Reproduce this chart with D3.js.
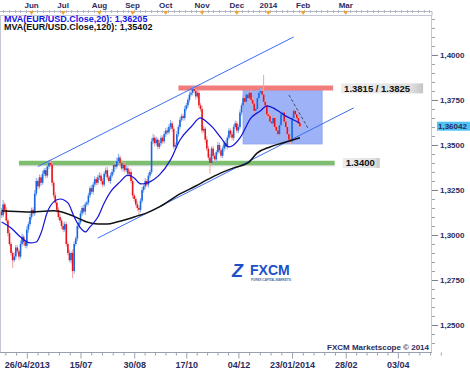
<!DOCTYPE html>
<html lang="en">
<head>
<meta charset="UTF-8">
<title>EUR/USD Daily</title>
<script src="https://d3js.org/d3.v7.min.js"></script>
<style>
  * { margin: 0; padding: 0; }
  body { background: #fff; }
  text { font-family: "Liberation Sans", Arial, sans-serif; font-weight: bold; }
</style>
</head>
<body>
<svg width="470" height="370"></svg>
<script>
// daily EUR/USD bars, open = previous close
var firstOpen = 1.3130;
var closes = [
  1.3110,1.3170,1.3140,1.3080,1.3010,1.2950,1.2900,1.2860,1.2880,1.2930,
  1.2910,1.2880,1.2950,1.2990,1.2960,1.2940,1.3030,1.3060,1.3100,1.3140,
  1.3120,1.3230,1.3300,1.3270,1.3320,1.3290,1.3340,1.3360,1.3330,1.3380,
  1.3400,1.3390,1.3290,1.3220,1.3180,1.3140,1.3100,1.3080,1.3050,1.3030,
  1.3060,1.2950,1.2900,1.2860,1.2900,1.2800,1.2950,1.2980,1.3050,1.3070,
  1.3120,1.3150,1.3130,1.3170,1.3180,1.3220,1.3260,1.3240,1.3280,1.3310,
  1.3290,1.3320,1.3330,1.3300,1.3280,1.3340,1.3360,1.3320,1.3300,1.3330,
  1.3350,1.3390,1.3380,1.3410,1.3430,1.3400,1.3370,1.3390,1.3360,1.3370,
  1.3340,1.3350,1.3300,1.3220,1.3200,1.3170,1.3150,1.3140,1.3190,1.3250,
  1.3270,1.3300,1.3280,1.3330,1.3350,1.3520,1.3540,1.3510,1.3530,1.3490,
  1.3510,1.3540,1.3520,1.3560,1.3580,1.3570,1.3600,1.3620,1.3590,1.3490,
  1.3500,1.3560,1.3600,1.3640,1.3660,1.3650,1.3700,1.3720,1.3750,1.3780,
  1.3790,1.3810,1.3800,1.3770,1.3790,1.3720,1.3700,1.3580,1.3590,1.3530,
  1.3480,1.3430,1.3400,1.3480,1.3440,1.3420,1.3460,1.3500,1.3470,1.3440,
  1.3480,1.3510,1.3490,1.3540,1.3580,1.3560,1.3540,1.3600,1.3620,1.3580,
  1.3600,1.3680,1.3720,1.3760,1.3740,1.3780,1.3760,1.3790,1.3750,1.3730,
  1.3690,1.3700,1.3760,1.3790,1.3800,1.3780,1.3740,1.3720,1.3670,1.3660,
  1.3630,1.3620,1.3650,1.3600,1.3580,1.3560,1.3610,1.3670,1.3680,1.3630,
  1.3600,1.3560,1.3530,1.3520,1.3650,1.3690,1.3670,1.3650,1.3620,1.3604
];
// shadow lengths above / below the body, in pips
var wickHi = [
  20,25,12,15,10,18,12,10,22,15, 14,10,20,18,12,15,20,14,18,12,
  15,20,18,12,16,14,18,12,15,18, 17,20,15,12,18,10,14,16,12,18,
  15,12,14,18,10,20,15,12,18,14, 16,12,18,14,10,15,12,18,14,16,
  12,15,18,14,16,12,15,18,12,14, 16,12,15,20,22,14,18,12,15,16,
  14,12,18,15,12,14,16,12,15,18, 14,16,12,15,12,18,22,14,16,12,
  18,14,12,16,15,18,14,20,12,16, 14,18,12,16,14,12,18,15,12,16,
  14,16,18,12,15,20,14,18,16,12, 18,14,20,12,16,14,12,18,15,14,
  16,12,18,14,15,12,18,14,16,12, 14,18,12,16,15,18,14,12,16,18,
  14,15,12,16,18,14,109,18,15,12, 16,14,18,12,15,14,16,12,18,14,
  15,12,14,16,18,12,15,14,12,16
];
var wickLo = [
  15,12,20,14,18,12,15,43,12,18, 15,20,12,14,18,12,15,18,12,15,
  12,15,14,18,12,15,12,14,16,12, 14,12,18,15,12,16,14,12,18,15,
  12,16,14,12,18,39,15,12,14,16, 12,15,14,18,12,15,14,12,16,14,
  15,12,14,18,15,12,16,14,12,15, 12,14,16,12,15,14,12,18,14,12,
  16,12,14,18,15,12,16,23,14,12, 15,14,12,16,14,12,15,18,14,16,
  12,15,14,12,16,14,12,15,18,14, 16,12,15,14,12,16,14,12,15,14,
  12,15,14,18,12,15,14,16,12,18, 15,14,60,12,16,14,15,12,16,14,
  12,16,14,15,12,18,14,16,12,15, 14,12,16,14,15,12,18,14,16,12,
  15,14,12,16,14,12,18,15,14,16, 12,14,16,15,12,18,14,12,16,15,
  14,12,16,15,12,14,16,12,15,14
];
// moving averages: [bar index, value]
var ma20 = [
  [0,1.3072],[6,1.3039],[12,1.2989],[18,1.2956],[22,1.2961],[25,1.3011],[29,1.3128],
  [33,1.3184],[37,1.3200],[42,1.3178],[46,1.3100],[50,1.3039],[53,1.3017],[56,1.3045],
  [61,1.3100],[65,1.3178],[69,1.3239],[75,1.3295],[80,1.3333],[84,1.3317],[88,1.3284],
  [92,1.3289],[96,1.3306],[100,1.3334],[107,1.3417],[113,1.3528],[120,1.3600],[126,1.3650],
  [130,1.3628],[134,1.3595],[139,1.3539],[144,1.3489],[147,1.3500],[151,1.3539],[158,1.3650],
  [164,1.3690],[168,1.3717],[172,1.3706],[177,1.3678],[181,1.3656],[185,1.3639],[189,1.3621]
];
var ma120 = [
  [0,1.3134],[16,1.3128],[33,1.3134],[42,1.3117],[48,1.3095],[54,1.3072],[61,1.3061],
  [67,1.3061],[73,1.3072],[80,1.3089],[86,1.3106],[92,1.3123],[100,1.3156],[113,1.3228],
  [123,1.3272],[130,1.3306],[139,1.3345],[147,1.3373],[156,1.3400],[162,1.3456],
  [170,1.3489],[178,1.3511],[189,1.3540]
];
var legendNames = ["MVA(EUR/USD.Close,20): 1,36205", "MVA(EUR/USD.Close,120): 1,35402"];
var monthIdx = [19, 39, 62, 83, 104, 127, 149, 169, 191, 218];
var monthLabels = ["Jun", "Jul", "Aug", "Sep", "Oct", "Nov", "Dec", "2014", "Feb", "Mar"];
var dateIdx = [16, 50, 84, 117, 150, 184, 218, 251];
var dateLabels = ["26/04/2013", "15/07", "30/08", "17/10", "04/12", "23/01/2014", "28/02", "03/04"];
var priceTicks = [1.25, 1.275, 1.30, 1.325, 1.35, 1.375, 1.40];
var lastPrice = 1.36042;
var support = 1.3400, supportSpan = [11, 211];
var resistance = [1.3815, 1.3825], resistanceSpan = [112, 210];
var upperChannel = [[23, 1.3380], [185, 1.4100]];
var lowerChannel = [[61, 1.2983], [223, 1.3706]];
var zoneIdx = [153, 203], zoneVal = [1.3506, 1.3806];
var flagLine = [[182, 1.3778], [194, 1.3595]];

var svg = d3.select("svg");
var navy = "#2b2b5e";

var x = d3.scaleLinear().domain([-1, 272]).range([0, 431]);
var y = d3.scaleLinear().domain([1.235, 1.4222]).range([352, 15]);

var bars = closes.map(function (c, i) {
  var o = i === 0 ? firstOpen : closes[i - 1];
  return {
    i: i, o: o, c: c,
    h: Math.max(o, c) + wickHi[i] / 10000,
    l: Math.min(o, c) - wickLo[i] / 10000
  };
});

// plot frame
svg.append("rect").attr("x", 0.5).attr("y", 15.5).attr("width", 431).attr("height", 337)
  .attr("fill", "none").attr("stroke", "#c4c8d2");

// zone box
svg.append("rect")
  .attr("x", x(zoneIdx[0])).attr("y", y(zoneVal[1]))
  .attr("width", x(zoneIdx[1]) - x(zoneIdx[0])).attr("height", y(zoneVal[0]) - y(zoneVal[1]))
  .attr("fill", "#9eb2f7").attr("stroke", "#8ea4f2");

// support / resistance bands
svg.append("line")
  .attr("x1", x(supportSpan[0])).attr("x2", x(supportSpan[1]))
  .attr("y1", y(support)).attr("y2", y(support))
  .attr("stroke", "#7dbf6e").attr("stroke-width", 4.5);
svg.append("line")
  .attr("x1", x(supportSpan[0])).attr("x2", x(supportSpan[1]))
  .attr("y1", y(support) + 2.8).attr("y2", y(support) + 2.8)
  .attr("stroke", "#c8cccc").attr("stroke-width", 1);
var rMid = (resistance[0] + resistance[1]) / 2;
svg.append("line")
  .attr("x1", x(resistanceSpan[0])).attr("x2", x(resistanceSpan[1]))
  .attr("y1", y(rMid) + 0.6).attr("y2", y(rMid) + 0.6)
  .attr("stroke", "#f27c7c").attr("stroke-width", 5);

// candles
var cg = svg.append("g");
cg.selectAll("line").data(bars).join("line")
  .attr("x1", function (d) { return x(d.i); }).attr("x2", function (d) { return x(d.i); })
  .attr("y1", function (d) { return y(d.h); }).attr("y2", function (d) { return y(d.l); })
  .attr("stroke", function (d) { return d.c >= d.o ? "#86b0f2" : "#f4a0a0"; })
  .attr("stroke-width", 1);
cg.selectAll("rect").data(bars).join("rect")
  .attr("x", function (d) { return x(d.i) - 0.8; })
  .attr("width", 1.6)
  .attr("y", function (d) { return y(Math.max(d.o, d.c)); })
  .attr("height", function (d) { return Math.max(1, Math.abs(y(d.o) - y(d.c))); })
  .attr("fill", function (d) { return d.c >= d.o ? "#1a66e0" : "#e8141c"; });

// channel lines
[upperChannel, lowerChannel].forEach(function (seg) {
  svg.append("line")
    .attr("x1", x(seg[0][0])).attr("y1", y(seg[0][1]))
    .attr("x2", x(seg[1][0])).attr("y2", y(seg[1][1]))
    .attr("stroke", "#3d6ef0").attr("stroke-width", 1);
});
svg.append("line")
  .attr("x1", x(flagLine[0][0])).attr("y1", y(flagLine[0][1]))
  .attr("x2", x(flagLine[1][0])).attr("y2", y(flagLine[1][1]))
  .attr("stroke", "#333").attr("stroke-width", 0.8).attr("stroke-dasharray", "3,2");

// moving averages
var line = d3.line().x(function (d) { return x(d[0]); }).y(function (d) { return y(d[1]); })
  .curve(d3.curveMonotoneX);
svg.append("path").datum(ma120).attr("d", line)
  .attr("fill", "none").attr("stroke", "#111").attr("stroke-width", 1.5);
svg.append("path").datum(ma20).attr("d", line)
  .attr("fill", "none").attr("stroke", "#1212d8").attr("stroke-width", 1.2);

// level labels
var defs = svg.append("defs");
var grad = defs.append("linearGradient").attr("id", "lbl");
grad.append("stop").attr("offset", "0%").attr("stop-color", "#ececec");
grad.append("stop").attr("offset", "85%").attr("stop-color", "#e0e0e0");
grad.append("stop").attr("offset", "100%").attr("stop-color", "#c4c4c4");
function levelLabel(txt, px, py, w) {
  svg.append("rect").attr("x", px).attr("y", py - 5).attr("width", w).attr("height", 10)
    .attr("fill", "url(#lbl)");
  svg.append("text").attr("x", px + 3).attr("y", py + 3.5).attr("font-size", "9.5px")
    .attr("fill", "#111").text(txt);
}
levelLabel("1.3815 / 1.3825", x(resistanceSpan[1]) + 8, y(rMid) + 1, 82);
levelLabel("1.3400", x(supportSpan[1]) + 8, y(support), 37);

// legend
svg.selectAll(".leg").data(legendNames).join("text")
  .attr("x", 4).attr("y", function (d, i) { return 21.5 + i * 8.5; })
  .attr("font-size", "9px")
  .attr("fill", function (d, i) { return i === 0 ? "#1414e6" : "#111"; })
  .text(function (d) { return d; });

// top month axis
svg.append("line").attr("x1", 0).attr("x2", 432).attr("y1", 11.5).attr("y2", 11.5)
  .attr("stroke", "#b4b8c4");
svg.append("line").attr("x1", 432).attr("x2", 432).attr("y1", 11.5).attr("y2", 15.5)
  .attr("stroke", "#b4b8c4");
svg.append("g").selectAll("line").data(d3.range(1, 272, 3.6)).join("line")
  .attr("x1", function (d) { return Math.round(x(d)) + 0.5; })
  .attr("x2", function (d) { return Math.round(x(d)) + 0.5; })
  .attr("y1", 10).attr("y2", 13).attr("stroke", "#b4b8c4");
svg.append("g").selectAll("path").data(monthIdx).join("path")
  .attr("d", function (d) { var c = x(d); return "M" + (c - 2.5) + ",11L" + (c + 2.5) + ",11L" + c + ",15Z"; })
  .attr("fill", "#f2a12a");
svg.append("g").selectAll("text").data(monthIdx).join("text")
  .attr("x", function (d) { return x(d); }).attr("y", 8).attr("text-anchor", "middle")
  .attr("font-size", "8px").attr("fill", navy)
  .text(function (d, i) { return monthLabels[i]; });

// bottom date axis
var minorIdx = [];
dateIdx.forEach(function (d, k) {
  var nxt = k < dateIdx.length - 1 ? dateIdx[k + 1] : d + 34;
  for (var j = 1; j < 5; j++) minorIdx.push(d + (nxt - d) * j / 5);
  if (k === 0) for (var j = 1; j < 3; j++) minorIdx.push(d - 34 * j / 5);
});
svg.append("g").attr("transform", "translate(0,352.5)")
  .call(d3.axisBottom(x).tickValues(minorIdx).tickSize(3).tickFormat(""))
  .call(function (g) { g.select(".domain").remove(); g.selectAll("line").attr("stroke", "#9aa0b0"); });
svg.append("g").attr("transform", "translate(0,352.5)")
  .call(d3.axisBottom(x).tickValues(dateIdx).tickSize(6).tickPadding(3)
    .tickFormat(function (d, i) { return dateLabels[i]; }))
  .call(function (g) {
    g.select(".domain").attr("stroke", "#9aa0b0").attr("d", "M0,0H432");
    g.selectAll("line").attr("stroke", "#9aa0b0");
    g.selectAll("text").attr("font-size", "9px").attr("fill", navy)
      .attr("font-family", "Liberation Sans, Arial, sans-serif").attr("font-weight", "bold");
  });

// right price axis
svg.append("g").attr("transform", "translate(432,0)")
  .call(d3.axisRight(y).tickValues(d3.range(248, 285).map(function (d) { return d / 200; }))
    .tickSize(3).tickFormat(""))
  .call(function (g) { g.select(".domain").remove(); g.selectAll("line").attr("stroke", "#9aa0b0"); });
svg.append("g").attr("transform", "translate(432,0)")
  .call(d3.axisRight(y).tickValues(priceTicks).tickSize(6).tickPadding(2)
    .tickFormat(function (d) { return d3.format(".4f")(d).replace(".", ","); }))
  .call(function (g) {
    g.select(".domain").remove();
    g.selectAll("line").attr("stroke", "#7a8094");
    g.selectAll("text").attr("font-size", "8px").attr("fill", navy)
      .attr("font-family", "Liberation Sans, Arial, sans-serif").attr("font-weight", "bold");
  });
svg.append("rect").attr("x", 437).attr("y", y(lastPrice) - 4.5).attr("width", 33).attr("height", 9)
  .attr("fill", "#4fc4f4");
svg.append("text").attr("x", 438).attr("y", y(lastPrice) + 3).attr("font-size", "8px")
  .attr("fill", navy).text(d3.format(".5f")(lastPrice).replace(".", ","));

// watermark
svg.append("text").attr("x", 232).attr("y", 277).attr("font-size", "18px")
  .attr("font-style", "italic").attr("font-weight", "900").attr("fill", "#1d50c8").text("Z");
svg.append("text").attr("x", 250).attr("y", 275).attr("font-size", "14px")
  .attr("fill", "#1d50c8").text("FXCM");
svg.append("text").attr("x", 251).attr("y", 280.5).attr("font-size", "3.5px")
  .attr("fill", "#5a74a8").attr("textLength", 40).text("FOREX CAPITAL MARKETS");
svg.append("text").attr("x", 429).attr("y", 350).attr("text-anchor", "end")
  .attr("font-size", "8px").attr("fill", navy).text("FXCM Marketscope \u00a9 2014");
</script>
</body>
</html>
